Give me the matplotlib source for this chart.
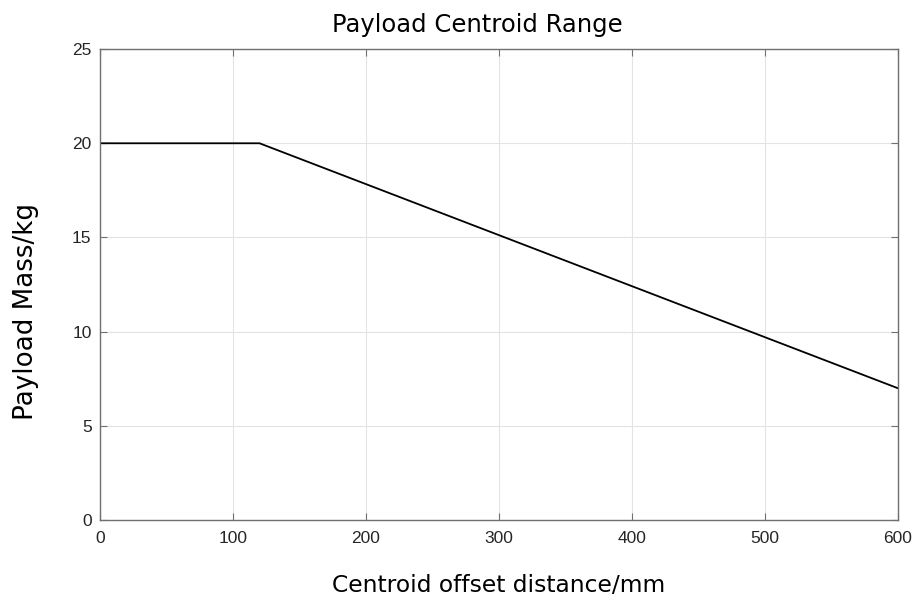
import matplotlib
matplotlib.use("Agg")
import matplotlib.pyplot as plt

# Payload curve (centroid offset mm vs payload kg)
offset_mm = [0, 120, 600]
payload_kg = [20, 20, 7]
x_ticks = [0, 100, 200, 300, 400, 500, 600]
y_ticks = [0, 5, 10, 15, 20, 25]

fig = plt.figure(figsize=(9.17, 6.03), dpi=100)
ax = fig.add_axes([0.109, 0.1376, 0.870, 0.781])

ax.plot(offset_mm, payload_kg, color="black", linewidth=1.3)

ax.set_xlim(0, 600)
ax.set_ylim(0, 25)
ax.set_xticks(x_ticks)
ax.set_yticks(y_ticks)
ax.grid(True, color="#e3e3e3", linewidth=0.8)
ax.set_axisbelow(True)

for s in ax.spines.values():
    s.set_color("#707070")
    s.set_linewidth(1.0)
ax.tick_params(direction="in", length=5, color="#707070", labelsize=12.5,
               labelcolor="#262626", top=True, right=True,
               labeltop=False, labelright=False)
ax.tick_params(axis="x", pad=8)
ax.tick_params(axis="y", pad=6)
for lab in ax.get_xticklabels() + ax.get_yticklabels():
    lab.set_family("Liberation Sans")

ax.set_title("Payload Centroid Range", fontsize=17.5, family="DejaVu Sans", pad=12, x=0.473)
ax.set_xlabel("Centroid offset distance/mm", fontsize=16.8, family="DejaVu Sans", labelpad=20)
ax.set_ylabel("Payload Mass/kg", fontsize=18.8, family="DejaVu Sans")
ax.yaxis.set_label_coords(-0.076, 0.442)

fig.savefig("out.png", dpi=100)
